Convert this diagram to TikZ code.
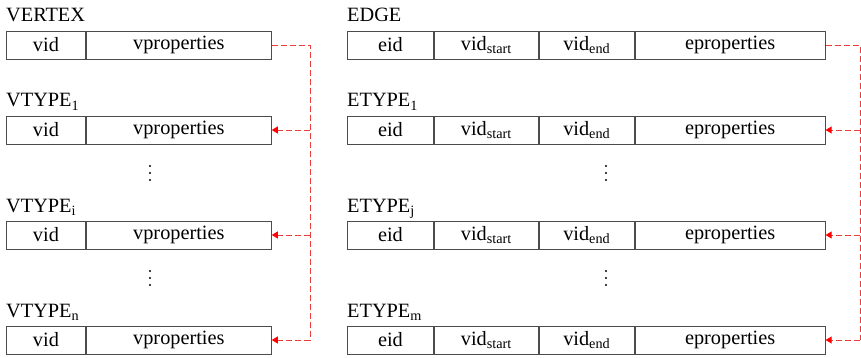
\documentclass[tikz,border=0pt]{standalone}
\usepackage{fontspec}
\setmainfont{Liberation Serif}
\usetikzlibrary{arrows.meta}
\definecolor{linkred}{RGB}{236,60,60}
\begin{document}
\begin{tikzpicture}[x=1pt,y=-1pt,
  cell/.style={draw=black!70, line width=0.9pt, minimum height=28pt, inner sep=0pt, anchor=west, font=\fontsize{20.3}{24}\selectfont},
  title/.style={anchor=base west, inner sep=0pt, font=\fontsize{20.3}{24}\selectfont},
  link/.style={draw=linkred, dash pattern=on 6pt off 3pt, line width=0.9pt},
  tiplink/.style={link, -{Triangle[length=6pt,width=7pt,color=red,fill=red]}},
  dotmark/.style={circle, fill=black, inner sep=0pt, minimum size=2.3pt}]
\useasboundingbox (0,0) rectangle (861,358);

% ---------- left column ----------
\node[title] (tv0) at (6,22) {VERTEX};
\node[title] (tv1) at (6,107) {VTYPE\textsubscript{1}};
\node[title] (tv2) at (6,212) {VTYPE\textsubscript{i}};
\node[title] (tv3) at (6,317) {VTYPE\textsubscript{n}};

\foreach \r/\y in {0/45,1/130,2/235,3/340}{
  \node[cell, minimum width=79pt] (v\r a) at (6,\y) {vid};
  \node[cell, minimum width=185pt] (v\r b) at (v\r a.east) {vproperties};
  \coordinate (lj\r) at (310,\y);
}

\foreach \i/\y in {1/166,2/173,3/180}{ \node[dotmark] (vda\i) at (150,\y) {}; }
\foreach \i/\y in {1/271,2/278,3/285}{ \node[dotmark] (vdb\i) at (150,\y) {}; }

% ---------- right column ----------
\node[title] (te0) at (347,22) {EDGE};
\node[title] (te1) at (347,107) {ETYPE\textsubscript{1}};
\node[title] (te2) at (347,212) {ETYPE\textsubscript{j}};
\node[title] (te3) at (347,317) {ETYPE\textsubscript{m}};

\foreach \r/\y in {0/45,1/130,2/235,3/340}{
  \node[cell, minimum width=86pt] (e\r a) at (347,\y) {eid};
  \node[cell, minimum width=104pt] (e\r b) at (e\r a.east) {vid\textsubscript{start}};
  \node[cell, minimum width=95pt] (e\r c) at (e\r b.east) {vid\textsubscript{end}};
  \node[cell, minimum width=190pt] (e\r d) at (e\r c.east) {eproperties};
  \coordinate (rj\r) at (860,\y);
}

\foreach \i/\y in {1/166,2/173,3/180}{ \node[dotmark] (eda\i) at (606,\y) {}; }
\foreach \i/\y in {1/271,2/278,3/285}{ \node[dotmark] (edb\i) at (606,\y) {}; }

% ---------- connectors ----------
\draw[link] (v0b.east) -- (lj0) -- (lj3);
\foreach \r in {1,2,3}{ \draw[tiplink] (lj\r) -- (v\r b.east); }

\draw[link] (e0d.east) -- (rj0) -- (rj3);
\foreach \r in {1,2,3}{ \draw[tiplink] (rj\r) -- (e\r d.east); }
\end{tikzpicture}
\end{document}
